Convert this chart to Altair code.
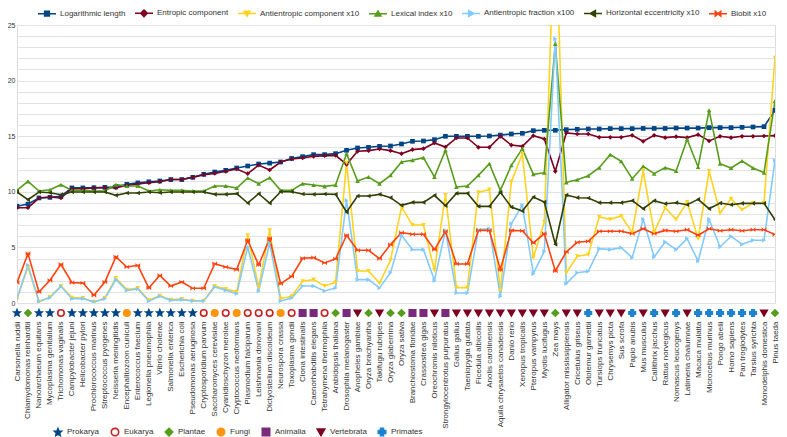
import math
import altair as alt
import pandas as pd

species = [
    "Carsonella ruddii", "Chlamydomonas reinhardtii", "Nanoarchaeum equitans", "Mycoplasma genitalium",
    "Trichomonas vaginalis", "Campylobacter jejuni", "Helicobacter pylori", "Prochlorococcus marinus",
    "Streptococcus pyogenes", "Neisseria meningitidis", "Encephalitozoon cuniculi", "Enterococcus faecium",
    "Legionella pneumophila", "Vibrio cholerae", "Salmonella enterica", "Escherichia coli",
    "Pseudomonas aeruginosa", "Cryptosporidium parvum", "Saccharomyces cerevisiae", "Cyanidioschyzon merolae",
    "Cryptococcus neoformans", "Plasmodium falciparum", "Leishmania donovani", "Dictyostelium discoideum",
    "Neurospora crassa", "Toxoplasma gondii", "Ciona intestinalis", "Caenorhabditis elegans",
    "Tetrahymena thermophila", "Arabidopsis thaliana", "Drosophila melanogaster", "Anopheles gambiae",
    "Oryza brachyantha", "Takifugu rubripes", "Oryza glaberrima", "Oryza sativa",
    "Branchiostoma floridae", "Crassostrea gigas", "Oreochromis niloticus", "Strongylocentrotus purpuratus",
    "Gallus gallus", "Taeniopygia guttata", "Ficedula albicollis", "Anolis carolinensis",
    "Aquila chrysaetos canadensis", "Danio rerio", "Xenopus tropicalis", "Pteropus vampyrus",
    "Myotis lucifugus", "Zea mays", "Alligator mississippiensis", "Cricetulus griseus",
    "Otolemur garnettii", "Tursiops truncatus", "Chrysemys picta", "Sus scrofa",
    "Papio anubis", "Mus musculus", "Callithrix jacchus", "Rattus norvegicus",
    "Nomascus leucogenys", "Latimeria chalumnae", "Macaca mulatta", "Microcebus murinus",
    "Pongo abelii", "Homo sapiens", "Pan troglodytes", "Tarsius syrichta",
    "Monodelphis domestica", "Pinus taeda",
]

P, E, PL, F, A, V, PR = "Prokarya", "Eukarya", "Plantae", "Fungi", "Animalia", "Vertebrata", "Primates"
kingdom_of = [
    P, PL, P, P, E, P, P, P, P, P, F, P, P, P, P, P, P, E, F, E,
    F, E, E, E, F, E, A, A, E, PL, A, V, PL, V, PL, PL, A, A, V, A,
    V, V, V, V, V, V, V, V, V, PL, V, V, PR, V, V, V, PR, V, PR, V,
    PR, V, PR, PR, PR, PR, PR, PR, V, PL,
]

log_length = [
    8.7, 8.9, 9.45, 9.5, 9.6, 10.35, 10.35, 10.37, 10.4, 10.43,
    10.67, 10.8, 10.9, 10.97, 11.1, 11.1, 11.3, 11.57, 11.78, 11.93,
    12.14, 12.32, 12.5, 12.58, 12.68, 13.0, 13.16, 13.34, 13.34, 13.43,
    13.73, 13.94, 14.0, 14.09, 14.12, 14.3, 14.54, 14.57, 14.69, 14.99,
    14.99, 14.99, 14.99, 15.02, 15.1, 15.2, 15.26, 15.5, 15.53, 15.53,
    15.59, 15.62, 15.65, 15.65, 15.68, 15.68, 15.68, 15.7, 15.7, 15.7,
    15.73, 15.73, 15.73, 15.77, 15.77, 15.77, 15.8, 15.83, 15.86, 17.33,
]
entropic = [
    8.57, 8.57, 9.44, 9.53, 9.44, 10.28, 10.28, 10.34, 10.37, 10.37,
    10.58, 10.7, 10.82, 10.91, 11.1, 11.1, 11.3, 11.54, 11.66, 11.84,
    12.05, 11.63, 12.4, 11.96, 12.68, 12.95, 13.04, 13.19, 13.25, 13.28,
    12.47, 13.64, 13.7, 13.85, 13.7, 13.43, 13.79, 13.88, 14.39, 14.03,
    14.84, 14.84, 14.0, 14.0, 14.99, 14.2, 14.09, 15.05, 14.75, 11.84,
    15.29, 15.2, 15.2, 14.9, 14.9, 14.9, 15.08, 14.54, 15.08, 14.87,
    14.96, 14.87, 15.14, 14.57, 14.99, 14.87, 14.99, 14.99, 15.02, 15.05,
]
antientropic = [
    0.4, 3.24, 0.1, 0.54, 1.53, 0.48, 0.45, 0.1, 0.45, 2.25,
    1.2, 1.35, 0.24, 0.66, 0.3, 0.36, 0.2, 0.2, 1.53, 1.26,
    1.0, 6.08, 1.4, 6.53, 0.39, 0.6, 1.95, 2.1, 1.53, 1.86,
    12.6, 2.88, 2.88, 1.8, 3.84, 8.63, 7.01, 7.01, 2.94, 9.71,
    1.38, 1.38, 9.95, 10.2, 1.14, 10.9, 13.4, 4.08, 7.28, 36.0,
    2.73, 4.2, 4.35, 7.73, 7.52, 7.82, 6.35, 11.87, 6.35, 8.57,
    7.52, 9.08, 5.79, 11.87, 8.09, 9.38, 8.39, 8.99, 8.99, 22.06,
]
lexical = [
    10.13, 10.94, 10.07, 10.19, 10.64, 10.13, 10.13, 10.07, 10.07, 10.64,
    10.52, 10.52, 10.07, 10.19, 10.13, 10.13, 10.07, 10.07, 10.52, 10.52,
    10.34, 11.24, 10.73, 11.27, 10.13, 10.13, 10.73, 10.61, 10.49, 10.61,
    13.43, 10.97, 11.33, 10.73, 11.48, 12.68, 12.83, 13.07, 11.33, 13.73,
    10.43, 10.52, 11.48, 12.53, 10.13, 12.38, 13.88, 11.57, 11.72, 23.3,
    10.85, 11.09, 11.45, 12.17, 13.34, 12.74, 11.18, 12.29, 11.63, 12.17,
    11.87, 14.72, 12.23, 17.33, 12.53, 12.14, 12.77, 12.14, 11.72, 18.17,
]
antientropic_fraction = [
    0.39, 3.39, 0.15, 0.48, 1.5, 0.39, 0.39, 0.09, 0.39, 2.1,
    1.14, 1.26, 0.18, 0.6, 0.24, 0.3, 0.18, 0.18, 1.44, 1.14,
    0.84, 5.04, 1.08, 5.4, 0.18, 0.45, 1.53, 1.53, 1.08, 1.35,
    9.23, 2.1, 2.1, 1.35, 2.73, 6.09, 4.8, 4.8, 2.04, 6.53,
    0.9, 0.9, 6.59, 6.68, 0.6, 7.13, 8.78, 2.64, 4.65, 23.77,
    1.74, 2.73, 2.85, 4.89, 4.8, 4.98, 4.08, 7.52, 4.14, 5.49,
    4.8, 5.79, 3.78, 7.52, 5.04, 6.0, 5.28, 5.64, 5.64, 12.83,
]
eccentricity = [
    9.98, 9.29, 9.98, 9.92, 9.74, 9.98, 9.98, 9.98, 9.98, 9.68,
    9.89, 9.89, 9.98, 9.92, 9.98, 9.98, 9.98, 9.98, 9.77, 9.77,
    9.83, 8.99, 9.83, 8.99, 10.01, 10.01, 9.8, 9.77, 9.8, 9.77,
    8.18, 9.62, 9.62, 9.77, 9.47, 8.78, 9.05, 9.05, 9.68, 8.75,
    9.86, 9.86, 8.69, 8.69, 9.95, 8.63, 8.27, 9.53, 9.08, 5.28,
    9.71, 9.47, 9.44, 9.02, 9.02, 9.02, 9.2, 8.48, 9.2, 8.93,
    9.02, 8.84, 9.32, 8.48, 8.99, 8.84, 8.96, 8.96, 8.96, 7.49,
]
biobit = [
    1.83, 4.44, 0.99, 2.04, 3.48, 1.83, 1.8, 0.69, 1.89, 4.14,
    3.24, 3.39, 1.35, 2.49, 1.53, 1.89, 1.32, 1.32, 3.54, 3.24,
    3.0, 5.64, 3.42, 5.79, 1.74, 2.4, 4.02, 4.08, 3.6, 3.96,
    6.09, 4.74, 4.74, 3.99, 5.25, 6.33, 6.18, 6.18, 4.8, 6.45,
    3.51, 3.51, 6.53, 6.53, 3.0, 6.53, 6.5, 5.4, 6.24, 2.88,
    4.59, 5.46, 5.55, 6.45, 6.45, 6.45, 6.24, 6.68, 6.24, 6.53,
    6.45, 6.59, 6.09, 6.68, 6.5, 6.59, 6.5, 6.59, 6.59, 6.15,
]

series_names = [
    "Logarithmic length", "Entropic component", "Antientropic component x10",
    "Lexical index x10", "Antientropic fraction x100", "Horizontal eccentricity x10", "Biobit x10",
]
series_values = [log_length, entropic, antientropic, lexical, antientropic_fraction, eccentricity, biobit]
series_colors = ["#004586", "#7e0021", "#ffd320", "#579d1c", "#83caff", "#314004", "#ff420e"]

kingdom_names = [P, E, PL, F, A, V, PR]
kingdom_colors = ["#004586", "#c9211e", "#579d1c", "#ff950e", "#7b2a7b", "#7e0021", "#1e83cf"]
kingdom_fills = ["#004586", "#ffffff", "#579d1c", "#ff950e", "#7b2a7b", "#7e0021", "#1e83cf"]


def star_path(r_out=1.0, r_in=0.45, n=5):
    pts = []
    for k in range(2 * n):
        r = r_out if k % 2 == 0 else r_in
        a = -math.pi / 2 + k * math.pi / n
        pts.append(f"{r * math.cos(a):.3f},{r * math.sin(a):.3f}")
    return "M" + "L".join(pts) + "Z"


bowtie = "M-1,-1L1,1L1,-1L-1,1Z"
marker_shapes = ["square", "diamond", "triangle-down", "triangle-up", "triangle-right", "triangle-left", bowtie]
legend_shapes = [
    "M-1,0H1M-0.26,-0.26H0.26V0.26H-0.26Z",
    "M-1,0H1M0,-0.36L0.36,0L0,0.36L-0.36,0Z",
    "M-1,0H1M-0.32,-0.26H0.32L0,0.3Z",
    "M-1,0H1M-0.32,0.26H0.32L0,-0.3Z",
    "M-1,0H1M-0.26,-0.32V0.32L0.3,0Z",
    "M-1,0H1M0.26,-0.32V0.32L-0.3,0Z",
    "M-1,0H1M-0.3,-0.26L0.3,0.26V-0.26L-0.3,0.26Z",
]
kingdom_shapes = [star_path(), "circle", "diamond", "circle", "square", "triangle-down", "cross"]

rows = []
for name, vals in zip(series_names, series_values):
    for sp, v in zip(species, vals):
        rows.append({"species": sp, "series": name, "value": v})
long_df = pd.DataFrame(rows)
king_df = pd.DataFrame({"species": species, "kingdom": kingdom_of})

W, H = 758, 278
FONT = "Liberation Sans"

x_enc = alt.X(
    "species:N", sort=species, title=None,
    scale=alt.Scale(type="point", padding=0),
    axis=alt.Axis(labelAngle=270, labelFontSize=8, labelColor="#333333", labelPadding=18,
                  ticks=False, tickSize=0, domain=False, grid=False, labelLimit=0,
                  labelOverlap=False, labelFont=FONT),
)
y_enc = alt.Y(
    "value:Q", title=None,
    scale=alt.Scale(domain=[0, 25], nice=False, zero=True),
    axis=alt.Axis(values=list(range(26)), labelExpr="datum.value % 5 == 0 ? datum.label : ''",
                  labelFontSize=7, labelColor="#333333", labelPadding=2, ticks=False, tickSize=0,
                  domain=False, grid=True, gridColor="#e2e2e2", gridWidth=1, labelFont=FONT),
)

color_scale = alt.Scale(domain=series_names, range=series_colors)

lines = alt.Chart(long_df).mark_line(strokeWidth=1.6, clip=True).encode(
    x=x_enc, y=y_enc,
    color=alt.Color("series:N", scale=color_scale, legend=None),
    detail="series:N",
)

markers = alt.Chart(long_df).mark_point(filled=True, size=22, opacity=1, clip=True).encode(
    x=x_enc, y=y_enc,
    color=alt.Color("series:N", scale=color_scale, legend=None),
    shape=alt.Shape("series:N", scale=alt.Scale(domain=series_names, range=marker_shapes), legend=None),
)

series_legend = alt.Legend(
    title=None, orient="none", legendX=20, legendY=-22, direction="horizontal", columns=7,
    symbolSize=324, labelFontSize=8, labelOffset=3, columnPadding=5, symbolStrokeWidth=1.6,
    padding=0, labelColor="#333333", labelFont=FONT,
)
legend_layer = alt.Chart(long_df).transform_filter("false").mark_point(strokeWidth=1.6, opacity=1).encode(
    x=x_enc, y=y_enc,
    fill=alt.Fill("series:N", scale=alt.Scale(domain=series_names, range=series_colors), legend=series_legend),
    stroke=alt.Stroke("series:N", scale=alt.Scale(domain=series_names, range=series_colors), legend=series_legend),
    shape=alt.Shape("series:N", scale=alt.Scale(domain=series_names, range=legend_shapes), legend=series_legend),
)

kingdom_legend = alt.Legend(
    title=None, orient="none", legendX=36, legendY=402, direction="horizontal", columns=7,
    symbolSize=55, labelFontSize=8, labelOffset=4, columnPadding=8, symbolStrokeWidth=1.6,
    padding=0, labelColor="#333333", labelFont=FONT,
)
kingdom_layer = alt.Chart(king_df).mark_point(size=42, strokeWidth=1.6, opacity=1, clip=False).encode(
    x=x_enc,
    y=alt.value(H + 10),
    fill=alt.Fill("kingdom:N", scale=alt.Scale(domain=kingdom_names, range=kingdom_fills), legend=kingdom_legend),
    stroke=alt.Stroke("kingdom:N", scale=alt.Scale(domain=kingdom_names, range=kingdom_colors), legend=kingdom_legend),
    shape=alt.Shape("kingdom:N", scale=alt.Scale(domain=kingdom_names, range=kingdom_shapes), legend=kingdom_legend),
)

chart = alt.layer(lines, markers, legend_layer, kingdom_layer).resolve_scale(
    color="independent", shape="independent", fill="independent", stroke="independent"
).properties(
    width=W, height=H,
    autosize=alt.AutoSizeParams(type="none"),
    padding={"left": 9, "top": 17, "right": 4, "bottom": 134},
    background="white",
).configure_view(stroke="#dcdcdc").configure(font=FONT)

chart.save("out.html", embed_options={"renderer": "svg", "actions": False})
